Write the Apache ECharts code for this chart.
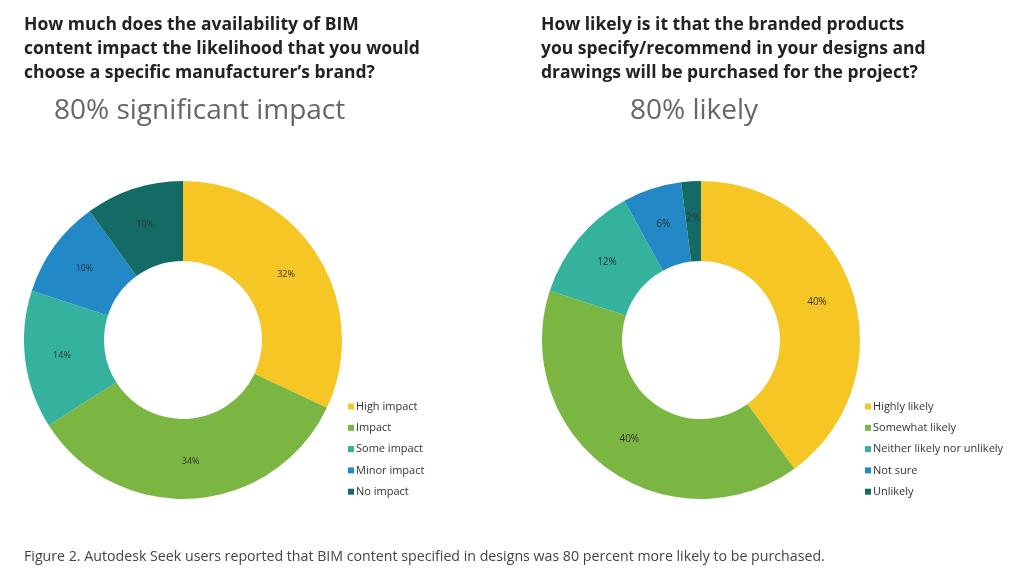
<!DOCTYPE html>
<html><head><meta charset="utf-8">
<script src="https://cdn.jsdelivr.net/npm/echarts@6/dist/echarts.min.js"></script>
<style>html,body{margin:0;padding:0;background:#fff}#c{width:1024px;height:583px}</style>
</head><body><div id="c"></div>
<script>
const leftCategories = ['High impact', 'Impact', 'Some impact', 'Minor impact', 'No impact'];
const leftValues = [32, 34, 14, 10, 10];
const rightCategories = ['Highly likely', 'Somewhat likely', 'Neither likely nor unlikely', 'Not sure', 'Unlikely'];
const rightValues = [40, 40, 12, 6, 2];
const colors = ['#F6C625', '#7BB542', '#35B29D', '#2289C6', '#146B66'];
const leftTitle = 'How much does the availability of BIM\ncontent impact the likelihood that you would\nchoose a specific manufacturer\u2019s brand?';
const rightTitle = 'How likely is it that the branded products\nyou specify/recommend in your designs and\ndrawings will be purchased for the project?';
const leftSub = '80% significant impact';
const rightSub = '80% likely';
const caption = 'Figure 2. Autodesk Seek users reported that BIM content specified in designs was 80 percent more likely to be purchased.';

const chart = echarts.init(document.getElementById('c'));
const ff = '"Open Sans", "Noto Sans", sans-serif';
function mk(cats, vals) { return cats.map((n, i) => ({ name: n, value: vals[i] })); }
chart.setOption({
  color: colors,
  animation: false,
  title: [
    { text: leftTitle, left: 19, top: 8, textStyle: { fontFamily: ff, fontSize: 17.5, fontWeight: 'bold', color: '#222', lineHeight: 24 } },
    { text: rightTitle, left: 536, top: 8, textStyle: { fontFamily: ff, fontSize: 17.5, fontWeight: 'bold', color: '#222', lineHeight: 24 } },
    { text: leftSub, left: 49, top: 92, textStyle: { fontFamily: ff, fontSize: 28, fontWeight: 'normal', color: '#666' } },
    { text: rightSub, left: 625, top: 92, textStyle: { fontFamily: ff, fontSize: 28, fontWeight: 'normal', color: '#666' } },
    { text: caption, left: 19, top: 545, textStyle: { fontFamily: ff, fontSize: 14.2, fontWeight: 'normal', color: '#444' } }
  ],
  legend: [
    { data: leftCategories, orient: 'vertical', left: 343, top: 396, itemWidth: 6, itemHeight: 6, itemGap: 10.3, icon: 'rect',
      textStyle: { fontFamily: ff, fontSize: 11, color: '#333', padding: [0, 0, 0, -3] } },
    { data: rightCategories, orient: 'vertical', left: 860, top: 396, itemWidth: 6, itemHeight: 6, itemGap: 10.3, icon: 'rect',
      textStyle: { fontFamily: ff, fontSize: 11, color: '#333', padding: [0, 0, 0, -3] } }
  ],
  series: [
    { type: 'pie', center: [183, 340], radius: [79, 159], startAngle: 90, clockwise: true,
      data: mk(leftCategories, leftValues),
      label: { position: 'inside', formatter: '{c}%', fontFamily: ff, fontSize: 9, color: '#333' },
      labelLine: { show: false }, emphasis: { disabled: true } },
    { type: 'pie', center: [701, 340], radius: [79, 159], startAngle: 90, clockwise: true,
      data: mk(rightCategories, rightValues),
      label: { position: 'inside', formatter: '{c}%', fontFamily: ff, fontSize: 10, color: '#333' },
      labelLine: { show: false }, emphasis: { disabled: true } }
  ]
});
</script></body></html>
